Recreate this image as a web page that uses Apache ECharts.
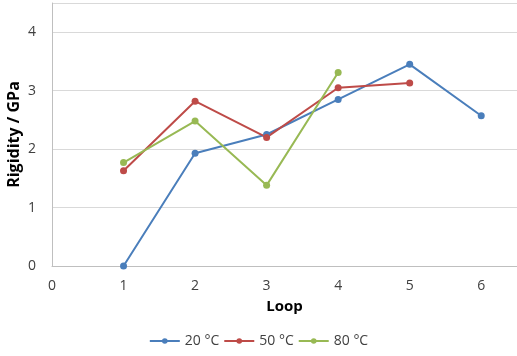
<!DOCTYPE html>
<html>
<head>
<meta charset="utf-8">
<script src="https://cdn.jsdelivr.net/npm/echarts@6/dist/echarts.min.js"></script>
<style>
  html, body { margin: 0; padding: 0; background: #fff; }
  #chart { width: 517px; height: 356px; }
</style>
</head>
<body>
<div id="chart"></div>
<script>
// 数据
var seriesNames = ['20 °C', '50 °C', '80 °C'];
var loops20 = [1, 2, 3, 4, 5, 6];
var rigidity20 = [0, 1.93, 2.25, 2.85, 3.45, 2.57];
var loops50 = [1, 2, 3, 4, 5];
var rigidity50 = [1.63, 2.82, 2.2, 3.05, 3.13];
var loops80 = [1, 2, 3, 4];
var rigidity80 = [1.77, 2.48, 1.38, 3.31];
var colors = ['#4A7EBB', '#BE4B48', '#98B954'];

function pairs(xs, ys) {
  return xs.map(function (x, i) { return [x, ys[i]]; });
}

var chart = echarts.init(document.getElementById('chart'));
var lineSeries = [pairs(loops20, rigidity20), pairs(loops50, rigidity50), pairs(loops80, rigidity80)]
  .map(function (d, i) {
    return {
      name: seriesNames[i],
      type: 'line',
      data: d,
      symbol: 'circle',
      symbolSize: 7,
      lineStyle: { color: colors[i], width: 2 },
      itemStyle: { color: colors[i] }
    };
  });

var option = {
  animation: false,
  color: colors,
  grid: { left: 52, right: 0, top: 3, bottom: 90, containLabel: false, outerBoundsMode: 'none' },
  legend: {
    data: seriesNames,
    bottom: 3,
    left: 'center',
    itemWidth: 30,
    itemHeight: 7,
    itemGap: 4,
    textStyle: { fontFamily: 'Open Sans', fontSize: 14, color: '#404040' }
  },
  xAxis: {
    type: 'value',
    min: 0,
    max: 6.5,
    interval: 1,
    name: 'Loop',
    nameLocation: 'middle',
    nameGap: 33,
    nameTextStyle: { fontFamily: 'Open Sans', fontWeight: 'bold', fontSize: 15, color: '#000' },
    axisLine: { lineStyle: { color: '#BFBFBF' } },
    axisTick: { show: false },
    splitLine: { show: false },
    axisLabel: {
      fontFamily: 'Open Sans', fontSize: 14, color: '#404040', margin: 13,
      formatter: function (v) { return v > 6 ? '' : v; }
    }
  },
  yAxis: {
    type: 'value',
    min: 0,
    max: 4.5,
    interval: 1,
    name: 'Rigidity / GPa',
    nameLocation: 'middle',
    nameGap: 30,
    nameMoveOverlap: false,
    nameTextStyle: { fontFamily: 'Open Sans', fontWeight: 'bold', fontSize: 16, color: '#000' },
    axisLine: { show: true, lineStyle: { color: '#BFBFBF' } },
    axisTick: { show: false },
    splitLine: { lineStyle: { color: '#D9D9D9' } },
    axisLabel: {
      fontFamily: 'Open Sans', fontSize: 14, color: '#404040', margin: 16,
      formatter: function (v) { return v > 4 ? '' : v; }
    }
  },
  series: lineSeries
};
chart.setOption(option);
</script>
</body>
</html>
